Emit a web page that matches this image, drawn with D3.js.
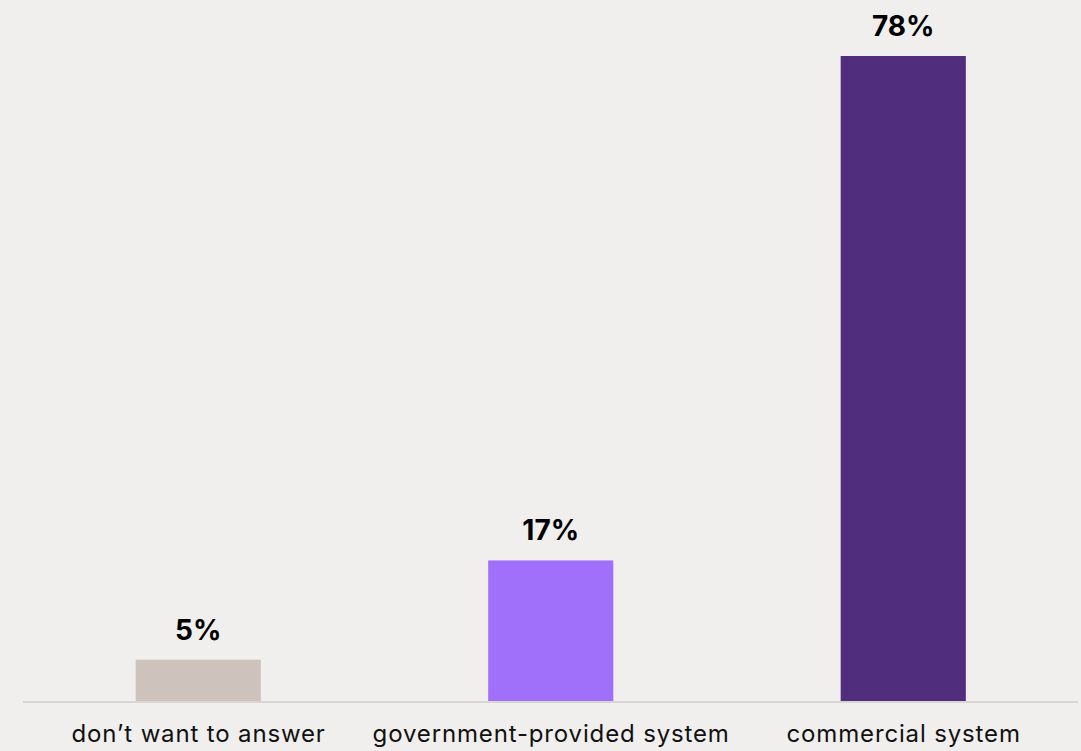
<!DOCTYPE html>
<html>
<head>
<meta charset="utf-8">
<style>
  html, body { margin: 0; padding: 0; background: #f0efed; }
  svg { display: block; }
</style>
</head>
<body>
<svg width="1081" height="751"></svg>
<script src="https://d3js.org/d3.v7.min.js"></script>
<script>

var categories = ["don’t want to answer", "government-provided system", "commercial system"],
    values = [5, 17, 78],
    colors = ["#cdc3bc", "#a170fb", "#502d7d"];

var svg = d3.select("svg"),
    baseline = 701;

var x = d3.scaleBand()
    .domain(categories)
    .range([22, 1079.5])
    .paddingInner(0.645)
    .paddingOuter(0.3225);

// 78% reaches y=56
var y = d3.scaleLinear()
    .domain([0, 78])
    .range([baseline, 56]);

// baseline
svg.append("line")
    .attr("x1", 23)
    .attr("x2", 1078)
    .attr("y1", baseline + 1)
    .attr("y2", baseline + 1)
    .attr("stroke", "#d8d6d4")
    .attr("stroke-width", 2);

var bars = svg.append("g").selectAll("g")
    .data(categories)
    .enter().append("g");

bars.append("rect")
    .attr("x", function(d) { return x(d); })
    .attr("y", function(d, i) { return y(values[i]); })
    .attr("width", x.bandwidth())
    .attr("height", function(d, i) { return baseline - y(values[i]); })
    .attr("fill", function(d, i) { return colors[i]; });

bars.append("text")
    .attr("x", function(d) { return x(d) + x.bandwidth() / 2; })
    .attr("y", function(d, i) { return y(values[i]) - 20; })
    .attr("text-anchor", "middle")
    .attr("font-family", "Inter, sans-serif")
    .attr("font-weight", 700)
    .attr("font-size", "28px")
    .attr("fill", "#000")
    .text(function(d, i) { return values[i] + "%"; });

bars.append("text")
    .attr("x", function(d) { return x(d) + x.bandwidth() / 2 + 0.4; })
    .attr("y", 742)
    .attr("text-anchor", "middle")
    .attr("font-family", "Inter, sans-serif")
    .attr("font-size", "24px")
    .attr("letter-spacing", "0.85px")
    .attr("fill", "#111")
    .text(function(d) { return d; });

</script>
</body>
</html>
